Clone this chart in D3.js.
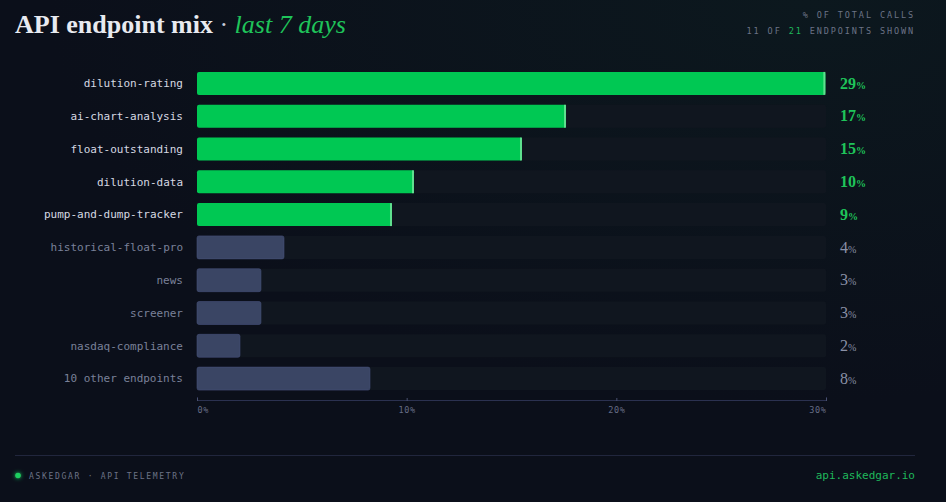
<!DOCTYPE html>
<html>
<head>
<meta charset="utf-8">
<script src="https://cdn.jsdelivr.net/npm/d3@7"></script>
<style>
  html, body { margin: 0; padding: 0; background: #0b0f1a; }
  svg { display: block; }
</style>
</head>
<body>
<div id="chart"></div>
<script>
// Endpoint share of total calls, last 7 days
const endpoints = [
    'dilution-rating', 'ai-chart-analysis', 'float-outstanding', 'dilution-data',
    'pump-and-dump-tracker', 'historical-float-pro', 'news', 'screener',
    'nasdaq-compliance', '10 other endpoints'
];
const shares = [29.97, 17.6, 15.5, 10.35, 9.3, 4.15, 3.05, 3.05, 2.05, 8.25];
const highlighted = [true, true, true, true, true, false, false, false, false, false];
const axisTicks = [0, 10, 20, 30];

const W = 946, H = 502;
const margin = { left: 197, right: 120, top: 67, bottom: 107 };

const svg = d3.select('#chart').append('svg')
    .attr('width', W)
    .attr('height', H);

// background
const defs = svg.append('defs');
const bg = defs.append('radialGradient')
    .attr('id', 'bg')
    .attr('cx', '85%').attr('cy', '0%').attr('r', '80%');
bg.append('stop').attr('offset', '0%').attr('stop-color', '#0c181e');
bg.append('stop').attr('offset', '100%').attr('stop-color', '#0b0f1a');

const glow = defs.append('filter').attr('id', 'glow')
    .attr('x', '-200%').attr('y', '-200%').attr('width', '500%').attr('height', '500%');
glow.append('feGaussianBlur').attr('stdDeviation', 2.2).attr('result', 'b');
const merge = glow.append('feMerge');
merge.append('feMergeNode').attr('in', 'b');
merge.append('feMergeNode').attr('in', 'SourceGraphic');

svg.append('rect').attr('width', W).attr('height', H).attr('fill', 'url(#bg)');

const mono = "'DejaVu Sans Mono', monospace";
const serif = "'Liberation Serif', 'Times New Roman', serif";

// title
const title = svg.append('text')
    .attr('x', 15).attr('y', 33)
    .style('font-family', serif)
    .style('font-size', '26px');
title.append('tspan').attr('fill', '#e8eaf0').style('font-weight', 'bold').text('API endpoint mix');
title.append('tspan').attr('fill', '#c9ccd6').text(' · ');
title.append('tspan').attr('fill', '#1fc45a').style('font-style', 'italic').text('last 7 days');

// top-right notes
svg.append('text')
    .attr('x', 915).attr('y', 18)
    .attr('text-anchor', 'end')
    .style('font-family', mono).style('font-size', '8.5px')
    .style('letter-spacing', '1.9px')
    .attr('fill', '#6b7386')
    .text('% OF TOTAL CALLS');
const shown = svg.append('text')
    .attr('x', 915).attr('y', 34)
    .attr('text-anchor', 'end')
    .style('font-family', mono).style('font-size', '8.5px')
    .style('letter-spacing', '1.9px')
    .attr('fill', '#6b7386');
shown.append('tspan').text('11 OF ');
shown.append('tspan').attr('fill', '#1fb85a').text('21');
shown.append('tspan').text(' ENDPOINTS SHOWN');

// scales
const x = d3.scaleLinear()
    .domain([0, 30])
    .range([margin.left, 826]);

const y = d3.scaleBand()
    .domain(endpoints)
    .range([margin.top, H - margin.bottom])
    .paddingInner(0.3)
    .paddingOuter(0.15);

const rows = svg.append('g').selectAll('g')
    .data(endpoints.map((name, i) => ({ name, value: shares[i], hi: highlighted[i] })))
    .join('g');

// tracks
rows.append('rect')
    .attr('x', x(0))
    .attr('y', d => y(d.name))
    .attr('width', x(30) - x(0))
    .attr('height', y.bandwidth())
    .attr('rx', 2)
    .attr('fill', '#10161f');

// bars
rows.append('rect')
    .attr('x', x(0))
    .attr('y', d => y(d.name))
    .attr('width', d => x(d.value) - x(0))
    .attr('height', y.bandwidth())
    .attr('rx', 2)
    .attr('fill', d => d.hi ? '#00c853' : '#3a4564')
    .attr('stroke', d => d.hi ? 'none' : '#46517a')
    .attr('stroke-width', 0.6);

// end cap highlight on green bars
rows.filter(d => d.hi).append('rect')
    .attr('x', d => x(d.value) - 2)
    .attr('y', d => y(d.name))
    .attr('width', 2)
    .attr('height', y.bandwidth())
    .attr('fill', '#5fe08f');

// endpoint labels
rows.append('text')
    .attr('x', 183)
    .attr('y', d => y(d.name) + y.bandwidth() / 2)
    .attr('dy', '0.35em')
    .attr('text-anchor', 'end')
    .style('font-family', mono)
    .style('font-size', '11px')
    .attr('fill', d => d.hi ? '#d6d9e2' : '#7a8199')
    .text(d => d.name);

// value labels
const vals = rows.append('text')
    .attr('x', 840)
    .attr('y', d => y(d.name) + y.bandwidth() / 2)
    .attr('dy', '0.33em')
    .style('font-family', serif)
    .attr('fill', d => d.hi ? '#1fc45a' : '#8a90a6')
    .style('font-weight', d => d.hi ? 'bold' : 'normal');
vals.append('tspan').style('font-size', '16px').text(d => Math.floor(d.value));
vals.append('tspan').style('font-size', '10px').text('%');

// x axis
const axis = svg.append('g')
    .attr('transform', `translate(0,400)`)
    .call(d3.axisBottom(x).tickValues(axisTicks).tickSize(-3).tickFormat(d => d + '%'));
axis.select('.domain').attr('stroke', '#2b3150');
axis.selectAll('.tick line').attr('stroke', '#4a5170').attr('transform', 'translate(0,1)');
axis.selectAll('.tick text')
    .attr('y', 7)
    .style('font-family', mono)
    .style('font-size', '8.5px')
    .style('letter-spacing', '0.6px')
    .attr('fill', '#666d85')
    .attr('text-anchor', (d, i) => i === 0 ? 'start' : (i === axisTicks.length - 1 ? 'end' : 'middle'));

// footer
svg.append('line')
    .attr('x1', 15).attr('x2', 915)
    .attr('y1', 455.5).attr('y2', 455.5)
    .attr('stroke', '#21263d');
svg.append('circle')
    .attr('cx', 18).attr('cy', 475.5).attr('r', 2.8)
    .attr('fill', '#1fd060')
    .attr('filter', 'url(#glow)');
svg.append('text')
    .attr('x', 29).attr('y', 478.5)
    .style('font-family', mono).style('font-size', '8px')
    .style('letter-spacing', '1.7px')
    .attr('fill', '#6b7386')
    .text('ASKEDGAR · API TELEMETRY');
svg.append('text')
    .attr('x', 915).attr('y', 479)
    .attr('text-anchor', 'end')
    .style('font-family', mono).style('font-size', '11px')
    .attr('fill', '#1fb85a')
    .text('api.askedgar.io');
</script>
</body>
</html>
